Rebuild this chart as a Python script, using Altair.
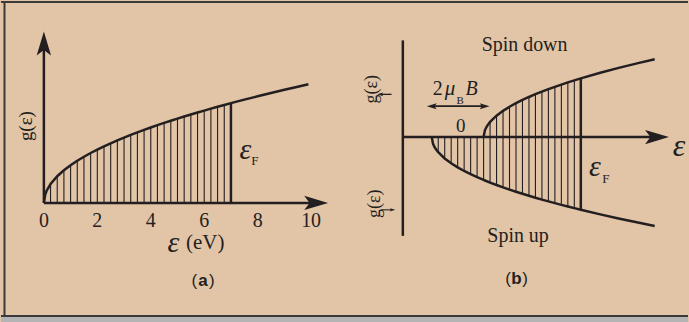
import altair as alt
import pandas as pd

# ---------------------------------------------------------------------------
# Panel (a): free-electron density of states g(e) ~ sqrt(e), filled up to E_F
# ---------------------------------------------------------------------------
energy_a = [0, 0.05, 0.1, 0.25, 0.5, 0.75, 1.0, 1.25, 1.5, 1.75, 2.0, 2.25, 2.5,
            2.75, 3.0, 3.25, 3.5, 3.75, 4.0, 4.25, 4.5, 4.75, 5.0, 5.25, 5.5,
            5.75, 6.0, 6.25, 6.5, 6.75, 7.0, 7.5, 8.0, 8.5, 9.0, 9.5, 9.9]
dos_a = [0, 0.224, 0.316, 0.5, 0.707, 0.866, 1.0, 1.118, 1.225, 1.323, 1.414,
         1.5, 1.581, 1.658, 1.732, 1.803, 1.871, 1.936, 2.0, 2.062, 2.121, 2.179,
         2.236, 2.291, 2.345, 2.398, 2.449, 2.5, 2.55, 2.598, 2.646, 2.739, 2.828,
         2.915, 3.0, 3.082, 3.146]
fermi_a = 7.0
ticks_a = [0, 2, 4, 6, 8, 10]

# ---------------------------------------------------------------------------
# Panel (b): spin-split bands in a field B (energy in units of mu_B*B)
# ---------------------------------------------------------------------------
energy_b = [-1.0, -0.95, -0.9, -0.85, -0.75, -0.5, -0.25, 0.0, 0.25, 0.5, 0.75,
            1.0, 1.05, 1.1, 1.15, 1.25, 1.5, 1.75, 2.0, 2.25, 2.5, 2.75, 3.0,
            3.25, 3.5, 3.75, 4.0, 4.25, 4.5, 4.75, 5.5, 6.25, 7.0, 7.6]
dos_spin_up = [0, 0.224, 0.316, 0.387, 0.5, 0.707, 0.866, 1.0, 1.118, 1.225,
               1.323, 1.414, 1.432, 1.449, 1.466, 1.5, 1.581, 1.658, 1.732,
               1.803, 1.871, 1.936, 2.0, 2.062, 2.121, 2.179, 2.236, 2.291,
               2.345, 2.398, 2.55, 2.693, 2.828, 2.933]
dos_spin_down = [0, 0, 0, 0, 0, 0, 0, 0, 0, 0, 0, 0, 0.224, 0.316, 0.387, 0.5,
                 0.707, 0.866, 1.0, 1.118, 1.225, 1.323, 1.414, 1.5, 1.581,
                 1.658, 1.732, 1.803, 1.871, 1.936, 2.121, 2.291, 2.449, 2.569]
fermi_b = 4.75

INK = "#231f20"
BG = "#e2c4a7"
SERIF = "Liberation Serif"
SANS = "Liberation Sans"

ARROW_RIGHT = "M1,0L-1,-0.6L-0.55,0L-1,0.6Z"
ARROW_LEFT = "M-1,0L1,-0.6L0.55,0L1,0.6Z"
ARROW_UP = "M0,-1L0.6,1L0,0.55L-0.6,1Z"

ONE_ROW = alt.Data(values=[{}])


def text_layer(rows, xs, ys, size, font=SERIF, style="normal", weight="normal",
               angle=0, align="center"):
    df = pd.DataFrame(rows, columns=["x", "y", "label"])
    return alt.Chart(df).mark_text(
        font=font, fontSize=size, fontStyle=style, fontWeight=weight,
        color=INK, angle=angle, align=align, baseline="middle",
    ).encode(
        x=alt.X("x:Q", scale=xs, axis=None),
        y=alt.Y("y:Q", scale=ys, axis=None),
        text="label:N",
    )


def arrow_head(x, y, shape, size, xs, ys):
    df = pd.DataFrame({"x": [x], "y": [y]})
    return alt.Chart(df).mark_point(
        shape=shape, size=size, filled=True, color=INK, opacity=1, strokeWidth=0
    ).encode(
        x=alt.X("x:Q", scale=xs, axis=None),
        y=alt.Y("y:Q", scale=ys, axis=None),
    )


def segment(x1, y1, x2, y2, xs, ys, width=2.5):
    df = pd.DataFrame({"x": [x1], "y": [y1], "x2": [x2], "y2": [y2]})
    return alt.Chart(df).mark_rule(color=INK, strokeWidth=width).encode(
        x=alt.X("x:Q", scale=xs, axis=None), x2="x2:Q",
        y=alt.Y("y:Q", scale=ys, axis=None), y2="y2:Q",
    )


# ----------------------------- panel (a) -----------------------------------
W_A, W_B, H = 345, 344, 322
xa = alt.Scale(domain=[-1.6045, 11.2687], nice=False, zero=False)
ya = alt.Scale(domain=[-3.1746, 5.3439], nice=False, zero=False)

curve_a = pd.DataFrame({"e": energy_a, "g": dos_a})
hatch_a = curve_a[(curve_a.e > 0) & (curve_a.e < fermi_a) & ((curve_a.e * 4) % 1 == 0)]
edge_a = curve_a[curve_a.e == fermi_a]

a_hatch = alt.Chart(hatch_a).mark_rule(color=INK, strokeWidth=1.1).encode(
    x=alt.X("e:Q", scale=xa, axis=None),
    y=alt.Y("g:Q", scale=ya, axis=None), y2=alt.datum(0),
)
a_edge = alt.Chart(edge_a).mark_rule(color=INK, strokeWidth=2.5).encode(
    x=alt.X("e:Q", scale=xa, axis=None),
    y=alt.Y("g:Q", scale=ya, axis=None), y2=alt.datum(0),
)
a_curve = alt.Chart(curve_a).mark_line(color=INK, strokeWidth=2.5).encode(
    x=alt.X("e:Q", scale=xa, axis=None),
    y=alt.Y("g:Q", scale=ya, axis=None), order="e:Q",
)

a_ticks = text_layer([(t, -0.476, str(t)) for t in ticks_a], xa, ya, 20)
a_eps = text_layer([(4.85, -1.07, "ε")], xa, ya, 30, style="italic")
a_unit = text_layer([(5.32, -1.07, "(eV)")], xa, ya, 21, align="left")
a_paren = text_layer([(5.63, -2.06, "("), (6.28, -2.06, ")")], xa, ya, 17, font=SANS)
a_letter = text_layer([(5.95, -2.06, "a")], xa, ya, 17, font=SANS, weight="bold")
a_glabel = text_layer([(-0.672, 2.037, "g(ε)")], xa, ya, 19, angle=270)
a_fermi = text_layer([(7.54, 1.40, "ε")], xa, ya, 30, style="italic")
a_fermi_sub = text_layer([(7.90, 1.10, "F")], xa, ya, 13)

frame_top = alt.Chart(ONE_ROW).mark_rule(color="#3a3a3a", strokeWidth=2).encode(
    x=alt.value(0), x2=alt.value(W_A), y=alt.value(0.5))
frame_left = alt.Chart(ONE_ROW).mark_rule(color="#3a3a3a", strokeWidth=2).encode(
    x=alt.value(3.5), y=alt.value(0), y2=alt.value(316))
frame_bottom = alt.Chart(ONE_ROW).mark_rule(color="#3a3a3a", strokeWidth=2).encode(
    x=alt.value(0), x2=alt.value(W_A), y=alt.value(315.5))
strip_a = alt.Chart(ONE_ROW).mark_rect(color="#b4b4b4").encode(
    x=alt.value(0), x2=alt.value(W_A), y=alt.value(316.5), y2=alt.value(H))

panel_a = alt.layer(
    strip_a, frame_top, frame_left, frame_bottom,
    a_hatch, a_edge, a_curve,
    segment(0, 0, 10.2, 0, xa, ya), segment(0, 0, 0, 4.2, xa, ya),
    arrow_head(10.19, 0, ARROW_RIGHT, 576, xa, ya),
    arrow_head(0, 4.23, ARROW_UP, 576, xa, ya),
    a_ticks, a_eps, a_unit, a_paren, a_letter, a_glabel, a_fermi, a_fermi_sub,
).properties(width=W_A, height=H)

# ----------------------------- panel (b) -----------------------------------
xb = alt.Scale(domain=[-4.346, 8.885], nice=False, zero=False)
yb = alt.Scale(domain=[-6.118, 4.474], nice=False, zero=False)

curve_b = pd.DataFrame({"e": energy_b, "dn": dos_spin_down,
                        "up": [-v for v in dos_spin_up]})
down_branch = curve_b[curve_b.e >= 1.0]
hatch_b = curve_b[(curve_b.e > -1) & (curve_b.e < fermi_b) & ((curve_b.e * 4) % 1 == 0)]
edge_b = curve_b[curve_b.e == fermi_b]

b_hatch = alt.Chart(hatch_b).mark_rule(color=INK, strokeWidth=1.1).encode(
    x=alt.X("e:Q", scale=xb, axis=None),
    y=alt.Y("dn:Q", scale=yb, axis=None), y2="up:Q",
)
b_edge = alt.Chart(edge_b).mark_rule(color=INK, strokeWidth=2.5).encode(
    x=alt.X("e:Q", scale=xb, axis=None),
    y=alt.Y("dn:Q", scale=yb, axis=None), y2="up:Q",
)
b_down = alt.Chart(down_branch).mark_line(color=INK, strokeWidth=2.5).encode(
    x=alt.X("e:Q", scale=xb, axis=None),
    y=alt.Y("dn:Q", scale=yb, axis=None), order="e:Q",
)
b_up = alt.Chart(curve_b).mark_line(color=INK, strokeWidth=2.5).encode(
    x=alt.X("e:Q", scale=xb, axis=None),
    y=alt.Y("up:Q", scale=yb, axis=None), order="e:Q",
)

b_spin_down = text_layer([(2.58, 3.04, "Spin down")], xb, yb, 20)
b_spin_up = text_layer([(2.33, -3.26, "Spin up")], xb, yb, 20)
b_zero = text_layer([(0.115, 0.38, "0")], xb, yb, 19)
b_two = text_layer([(-0.77, 1.58, "2")], xb, yb, 20)
b_mu = text_layer([(-0.30, 1.58, "μ")], xb, yb, 21, style="italic")
b_sub_b = text_layer([(0.10, 1.20, "B")], xb, yb, 11)
b_field = text_layer([(0.54, 1.58, "B")], xb, yb, 20, style="italic")
b_eps = text_layer([(8.30, -0.30, "ε")], xb, yb, 32, style="italic", align="left")
b_fermi = text_layer([(5.29, -1.0, "ε")], xb, yb, 30, style="italic")
b_fermi_sub = text_layer([(5.72, -1.38, "F")], xb, yb, 13)
b_paren = text_layer([(1.94, -4.69, "("), (2.60, -4.69, ")")], xb, yb, 17, font=SANS)
b_letter = text_layer([(2.27, -4.69, "b")], xb, yb, 17, font=SANS, weight="bold")
b_glabels = text_layer([(-3.31, 1.58, "g(ε)"), (-3.19, -2.2, "g(ε)")], xb, yb, 18,
                       angle=270)

# small spin arrows next to the rotated g labels
b_spin_arrows = alt.layer(
    segment(-2.55, 1.41, -2.95, 1.41, xb, yb, width=1.3),
    arrow_head(-2.99, 1.41, ARROW_LEFT, 36, xb, yb),
    segment(-2.95, -2.40, -2.55, -2.40, xb, yb, width=1.1),
    arrow_head(-2.51, -2.40, ARROW_RIGHT, 30, xb, yb),
)

frame_top_b = alt.Chart(ONE_ROW).mark_rule(color="#3a3a3a", strokeWidth=2).encode(
    x=alt.value(0), x2=alt.value(W_B), y=alt.value(0.5))
frame_bottom_b = alt.Chart(ONE_ROW).mark_rule(color="#3a3a3a", strokeWidth=2).encode(
    x=alt.value(0), x2=alt.value(W_B), y=alt.value(315.5))
strip_b = alt.Chart(ONE_ROW).mark_rect(color="#b4b4b4").encode(
    x=alt.value(0), x2=alt.value(W_B), y=alt.value(316.5), y2=alt.value(H))

panel_b = alt.layer(
    strip_b, frame_top_b, frame_bottom_b,
    b_hatch, b_edge, b_down, b_up,
    segment(-2.115, 0, 7.7, 0, xb, yb), segment(-2.115, -3.26, -2.115, 3.19, xb, yb),
    arrow_head(7.69, 0, ARROW_RIGHT, 576, xb, yb),
    segment(-1.0, 1.02, 1.04, 1.02, xb, yb, width=1.6),
    arrow_head(-1.0, 1.02, ARROW_LEFT, 100, xb, yb),
    arrow_head(1.04, 1.02, ARROW_RIGHT, 100, xb, yb),
    b_spin_down, b_spin_up, b_zero, b_two, b_mu, b_sub_b, b_field, b_eps,
    b_fermi, b_fermi_sub, b_paren, b_letter, b_glabels, b_spin_arrows,
).properties(width=W_B, height=H)

chart = alt.hconcat(panel_a, panel_b, spacing=0, bounds="flush").properties(
    padding=0, background=BG,
).configure_view(stroke=None)

chart.save("out.html", embed_options={"renderer": "svg", "actions": False})
